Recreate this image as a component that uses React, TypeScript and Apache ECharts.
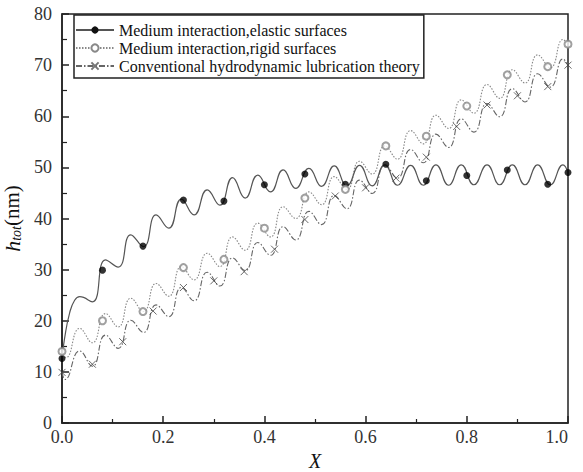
import React, { useEffect, useRef } from "react";
import * as echarts from "echarts";

// ---- Data ----
const xTicks = [0, 0.2, 0.4, 0.6, 0.8, 1.0];
const yTicks = [0, 10, 20, 30, 40, 50, 60, 70, 80];

const seriesNames = [
  "Medium interaction,elastic surfaces",
  "Medium interaction,rigid surfaces",
  "Conventional hydrodynamic lubrication theory",
];

// elastic surfaces curve (peaks/troughs)
const elasticX = [0, 0.005, 0.015, 0.025, 0.035, 0.06, 0.086, 0.111, 0.136, 0.161, 0.186, 0.211, 0.236, 0.261, 0.287, 0.312, 0.337, 0.362, 0.387, 0.412, 0.437, 0.462, 0.488, 0.513, 0.538, 0.563, 0.588, 0.613, 0.638, 0.663, 0.689, 0.714, 0.739, 0.764, 0.789, 0.814, 0.84, 0.865, 0.89, 0.915, 0.94, 0.965, 0.99, 1.0];
const elasticY = [12.6, 16.5, 21.5, 24.0, 24.7, 23.7, 31.9, 30.5, 36.8, 34.5, 40.7, 38.1, 43.8, 40.7, 45.6, 42.6, 48.0, 44.0, 48.5, 45.2, 49.5, 45.9, 49.8, 46.3, 50.3, 46.4, 50.4, 46.4, 50.5, 46.5, 50.4, 46.5, 50.5, 46.5, 50.5, 46.6, 50.5, 46.6, 50.5, 46.6, 50.5, 46.6, 50.5, 49.0];
const elasticMarkX = [0, 0.08, 0.16, 0.24, 0.32, 0.4, 0.48, 0.56, 0.64, 0.72, 0.8, 0.88, 0.96, 1.0];
const elasticMarkY = [12.6, 29.9, 34.6, 43.6, 43.4, 46.6, 48.7, 46.7, 50.6, 47.4, 48.4, 49.5, 46.7, 49.0];

// rigid surfaces curve
const rigidX = [0, 0.008, 0.035, 0.06, 0.086, 0.111, 0.136, 0.161, 0.186, 0.211, 0.236, 0.261, 0.287, 0.312, 0.337, 0.362, 0.387, 0.412, 0.437, 0.462, 0.488, 0.513, 0.538, 0.563, 0.588, 0.613, 0.638, 0.663, 0.689, 0.714, 0.739, 0.764, 0.789, 0.814, 0.84, 0.865, 0.89, 0.915, 0.94, 0.965, 0.99, 1.0];
const rigidY = [14.0, 12.8, 18.5, 15.7, 21.4, 18.8, 24.4, 21.8, 27.3, 24.8, 30.6, 28.0, 33.2, 30.6, 36.4, 33.8, 39.1, 36.4, 42.3, 40.0, 45.2, 42.7, 48.2, 45.7, 51.2, 48.7, 54.2, 51.6, 57.2, 54.6, 60.2, 57.6, 63.2, 60.6, 66.2, 63.5, 69.1, 66.5, 72.0, 69.5, 75.0, 74.1];
const rigidMarkX = [0, 0.08, 0.16, 0.24, 0.32, 0.4, 0.48, 0.56, 0.64, 0.72, 0.8, 0.88, 0.96, 1.0];
const rigidMarkY = [14.0, 20.0, 21.8, 30.4, 32.0, 38.1, 44.0, 45.7, 54.2, 56.1, 62.0, 68.1, 69.7, 74.1];

// conventional theory curve
const convX = [0, 0.006, 0.035, 0.06, 0.086, 0.111, 0.136, 0.161, 0.186, 0.211, 0.236, 0.261, 0.287, 0.312, 0.337, 0.362, 0.387, 0.412, 0.437, 0.462, 0.488, 0.513, 0.538, 0.563, 0.588, 0.613, 0.638, 0.663, 0.689, 0.714, 0.739, 0.764, 0.789, 0.814, 0.84, 0.865, 0.89, 0.915, 0.94, 0.965, 0.99, 1.0];
const convY = [10.0, 8.5, 14.1, 11.1, 17.2, 14.6, 20.1, 17.7, 23.1, 20.8, 26.5, 23.9, 29.5, 26.8, 32.3, 29.8, 35.3, 32.8, 38.4, 35.8, 41.4, 38.8, 44.5, 41.9, 47.5, 44.9, 50.5, 47.9, 53.5, 50.9, 56.5, 53.9, 59.5, 56.9, 62.5, 59.9, 65.4, 62.8, 68.3, 65.7, 71.2, 70.0];
const convMarkX = [0, 0.06, 0.12, 0.18, 0.24, 0.3, 0.36, 0.42, 0.48, 0.54, 0.6, 0.66, 0.72, 0.78, 0.84, 0.9, 0.96, 1.0];
const convMarkY = [9.9, 11.5, 15.9, 21.9, 26.5, 27.8, 29.6, 34.0, 39.8, 44.4, 46.0, 47.9, 52.0, 58.0, 62.2, 64.0, 65.8, 70.0];

const zip = (xs: number[], ys: number[]) => xs.map((x, i) => [x, ys[i]]);

const FONT = "Liberation Serif, DejaVu Serif, serif";
const CROSS = "path://M0,0L10,10M10,0L0,10";

export default function App() {
  const ref = useRef<HTMLDivElement>(null);
  useEffect(() => {
    if (!ref.current) return;
    const chart = echarts.init(ref.current, undefined, { renderer: "svg" });
    const option: any = {
      animation: false,
      backgroundColor: "#fff",
      textStyle: { fontFamily: FONT },
      grid: {
        left: 62,
        right: 15,
        top: 14,
        bottom: 49,
        containLabel: false,
        outerBoundsMode: "none",
        show: true,
        borderColor: "#222",
        borderWidth: 1.5,
        backgroundColor: "transparent",
      },
      legend: {
        orient: "vertical",
        left: 74,
        top: 15,
        data: seriesNames,
        backgroundColor: "#fff",
        borderColor: "#222",
        borderWidth: 1.5,
        borderRadius: 0,
        padding: [7, 4, 4, 1],
        itemGap: 2,
        itemWidth: 38,
        itemHeight: 9,
        textStyle: { fontFamily: FONT, fontSize: 16, color: "#111", lineHeight: 16 },
      },
      xAxis: {
        type: "value",
        min: 0,
        max: 1,
        interval: 0.2,
        name: "X",
        nameLocation: "middle",
        nameGap: 26,
        nameTextStyle: { fontFamily: FONT, fontSize: 20, fontStyle: "italic", color: "#111" },
        axisLine: { show: true, onZero: false, lineStyle: { color: "#222", width: 1.5 } },
        axisTick: { show: true, inside: true, length: 7, lineStyle: { color: "#222", width: 1.5 } },
        minorTick: { show: true, splitNumber: 2, length: 4, lineStyle: { color: "#222", width: 1.2 } },
        splitLine: { show: false },
        axisLabel: {
          fontFamily: FONT,
          fontSize: 18,
          color: "#333",
          margin: 5,
          alignMaxLabel: "right",
          formatter: (v: number) => (xTicks.includes(+v.toFixed(1)) ? v.toFixed(1) : ""),
        },
      },
      yAxis: {
        type: "value",
        min: 0,
        max: 80,
        interval: 10,
        name: "{h|h}{s|tot}{n|(nm)}",
        nameLocation: "middle",
        nameGap: 38,
        nameRotate: 90,
        nameTextStyle: {
          rich: {
            h: { fontFamily: FONT, fontSize: 22, fontStyle: "italic", color: "#111", lineHeight: 22 },
            s: { fontFamily: FONT, fontSize: 14, fontStyle: "italic", color: "#111", padding: [8, 0, 0, 0] },
            n: { fontFamily: FONT, fontSize: 21, color: "#111", lineHeight: 22 },
          },
        },
        axisLine: { show: true, onZero: false, lineStyle: { color: "#222", width: 1.5 } },
        axisTick: { show: true, inside: true, length: 7, lineStyle: { color: "#222", width: 1.5 } },
        minorTick: { show: true, splitNumber: 2, length: 5, lineStyle: { color: "#222", width: 1.2 } },
        splitLine: { show: false },
        axisLabel: {
          fontFamily: FONT,
          fontSize: 18,
          color: "#333",
          margin: 10,
          formatter: (v: number) => (yTicks.includes(v) ? String(v) : ""),
        },
      },
      series: [
        {
          name: seriesNames[0],
          type: "line",
          smooth: 0.5,
          data: zip(elasticX, elasticY),
          showSymbol: false,
          symbol: "circle",
          itemStyle: { color: "#111" },
          lineStyle: { color: "#555", width: 1.2, type: "solid" },
          z: 3,
        },
        {
          name: seriesNames[1],
          type: "line",
          smooth: 0.5,
          data: zip(rigidX, rigidY),
          showSymbol: false,
          symbol: "emptyCircle",
          itemStyle: { color: "#888", borderColor: "#888", borderWidth: 1 },
          lineStyle: { color: "#888", width: 1.1, type: [1.5, 1.5] },
          z: 2,
        },
        {
          name: seriesNames[2],
          type: "line",
          smooth: 0.5,
          data: zip(convX, convY),
          showSymbol: false,
          symbol: CROSS,
          itemStyle: { color: "#777", borderColor: "#777", borderWidth: 1 },
          lineStyle: { color: "#666", width: 1.1, type: [6, 2, 1.5, 2] },
          z: 2,
        },
        {
          name: "elastic markers",
          type: "scatter",
          data: zip(elasticMarkX, elasticMarkY),
          symbol: "circle",
          symbolSize: 7,
          itemStyle: { color: "#000" },
          z: 5,
        },
        {
          name: "rigid markers",
          type: "scatter",
          data: zip(rigidMarkX, rigidMarkY),
          symbol: "emptyCircle",
          symbolSize: 7,
          itemStyle: { color: "#888", borderColor: "#888", borderWidth: 1 },
          z: 5,
        },
        {
          name: "conventional markers",
          type: "scatter",
          data: zip(convMarkX, convMarkY),
          symbol: CROSS,
          symbolSize: 7,
          itemStyle: { color: "transparent", borderColor: "#444", borderWidth: 1 },
          z: 5,
        },
      ],
    };
    chart.setOption(option);
    return () => chart.dispose();
  }, []);
  return <div ref={ref} style={{ width: 583, height: 472, position: "absolute", left: 0, top: 0 }} />;
}
